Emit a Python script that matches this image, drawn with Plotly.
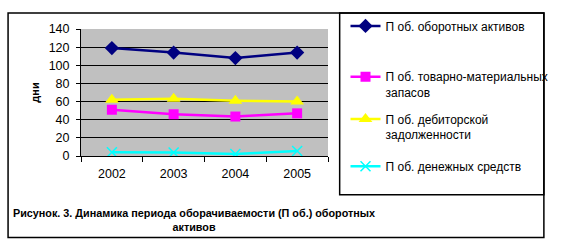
import plotly.graph_objects as go

years = ["2002", "2003", "2004", "2005"]
names = [
    "П об. оборотных активов",
    "П об. товарно-материальных<br>запасов",
    "П об. дебиторской<br>задолженности",
    "П об. денежных средств",
]
oborot = [119, 114, 108, 114]
tmz = [51, 46, 43.5, 47]
debit = [62, 63, 61, 60]
money = [4.2, 3.8, 2.2, 5.6]
y_ticks = [0, 20, 40, 60, 80, 100, 120, 140]
caption = "Рисунок. 3. Динамика периода оборачиваемости (П об.) оборотных<br>активов"

W, H = 565, 248
L, R, T, B = 81, 335, 22, 156


def px2x(p):
    return (p - L) / (R - L)


def py2y(p):
    return (B - p) / (B - T)


series = [oborot, tmz, debit, money]
colors = ["#000080", "#FF00FF", "#FFFF00", "#00FFFF"]
symbols = ["diamond", "square", "triangle-up", "x-thin"]
msizes = [11, 10, 12, 10]
legend_ids = ["legend", "legend2", "legend3", "legend4"]
legend_centers = [19, 81, 125.5, 167]

fig = go.Figure()
for vals, nm, c, s, ms, lg in zip(series, names, colors, symbols, msizes, legend_ids):
    fig.add_trace(go.Scatter(
        x=years, y=vals, name=nm, mode="lines+markers",
        line=dict(color=c, width=2.5),
        marker=dict(symbol=s, size=ms, color=c, line=dict(color=c, width=1.5 if s == "x-thin" else 0)),
        legend=lg,
    ))

font_main = "Liberation Sans, Arial, sans-serif"

layout_legends = {}
for lg, yc in zip(legend_ids, legend_centers):
    layout_legends[lg] = dict(
        x=px2x(353), y=py2y(yc), xanchor="left", yanchor="middle",
        bgcolor="rgba(0,0,0,0)", borderwidth=0,
        font=dict(family=font_main, size=12, color="black"),
        itemwidth=30, valign="top", tracegroupgap=0,
    )

fig.update_layout(
    width=W, height=H,
    margin=dict(l=L, r=W - R, t=T, b=H - B, pad=0),
    paper_bgcolor="white",
    plot_bgcolor="#c0c0c0",
    showlegend=True,
    font=dict(family=font_main, size=12, color="black"),
    xaxis=dict(
        type="category", range=[-0.5, 3.5],
        tickson="boundaries", ticks="outside", ticklen=5, tickcolor="black", tickwidth=1,
        showline=True, linecolor="black", linewidth=1,
        showgrid=False, zeroline=False,
        tickfont=dict(family=font_main, size=12.5, color="black"),
        ticklabelstandoff=6,
    ),
    yaxis=dict(
        range=[0, 140], tickvals=y_ticks,
        ticks="outside", ticklen=4, tickcolor="black",
        showline=True, linecolor="black", linewidth=1,
        showgrid=True, gridcolor="black", gridwidth=1,
        zeroline=False,
        tickfont=dict(family=font_main, size=12.5, color="black"),
        ticklabelstandoff=4,
        title=dict(text="<b>дни</b>", font=dict(family=font_main, size=11, color="black"), standoff=6),
    ),
    shapes=[
        dict(type="rect", xref="paper", yref="paper",
             x0=px2x(6), x1=px2x(557), y0=py2y(242), y1=py2y(5),
             line=dict(color="black", width=1.5), fillcolor="rgba(0,0,0,0)", layer="below"),
        dict(type="rect", xref="paper", yref="paper",
             x0=px2x(347), x1=px2x(557), y0=py2y(197), y1=py2y(5),
             line=dict(color="black", width=1.5), fillcolor="rgba(0,0,0,0)", layer="below"),
    ],
    annotations=[
        dict(text="<b>" + caption + "</b>", xref="paper", yref="paper",
             x=px2x(197), y=py2y(223.5), xanchor="center", yanchor="middle",
             showarrow=False, align="center",
             font=dict(family=font_main, size=10.8, color="black")),
    ],
    **layout_legends,
)

fig.write_html("out.html")
